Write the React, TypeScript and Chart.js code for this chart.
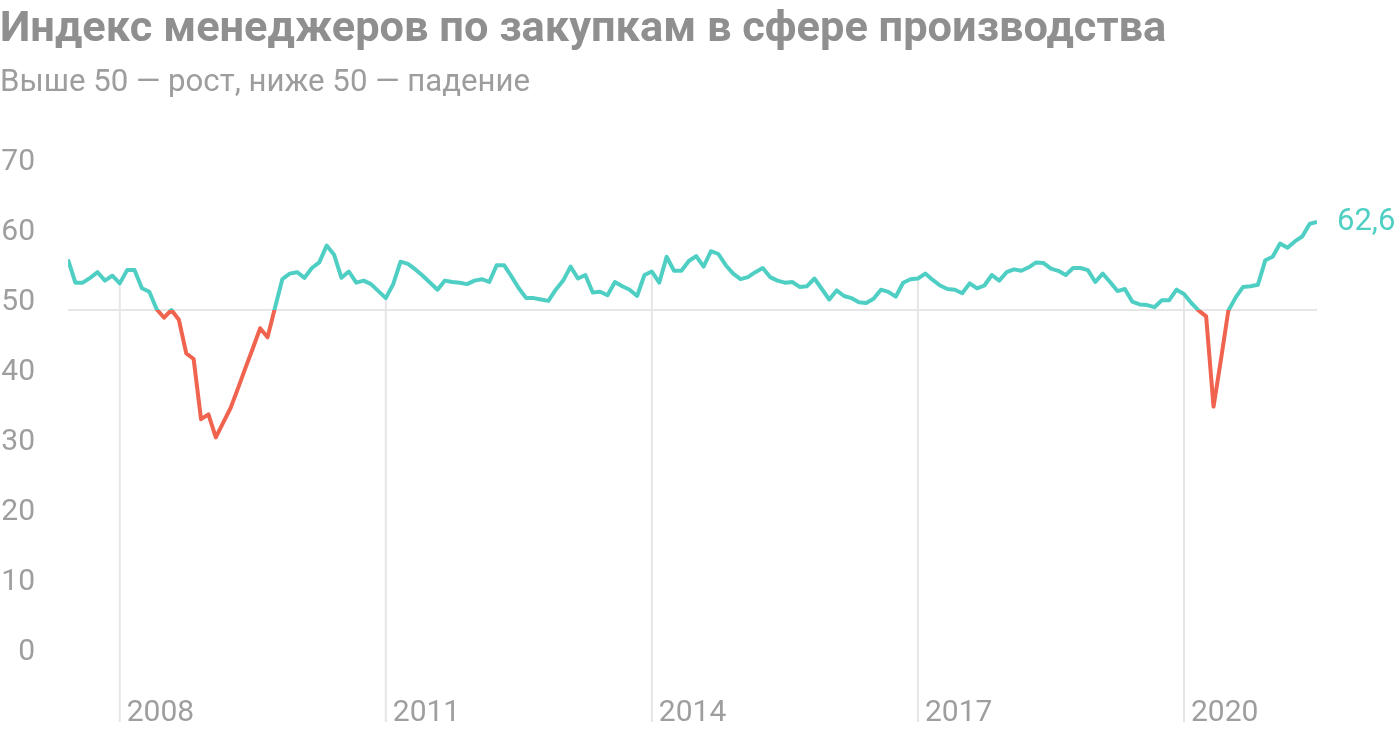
import React, { useEffect, useRef } from "react";
import { Chart, registerables } from "chart.js";

Chart.register(...registerables);

// ---- DATA (monthly, end-of-month, May 2007 – Jun 2021) ----
const START_YEAR = 2007;
const START_MONTH = 5; // May

const pmi2007 = [57.2, 53.9, 53.9, 54.6, 55.4, 54.2, 54.9, 53.8];
const pmi2008 = [55.7, 55.7, 53.1, 52.6, 50.1, 48.9, 50.0, 48.6, 43.8, 43.0, 34.4, 35.1];
const pmi2009 = [31.8, 33.9, 36.0, 38.8, 41.7, 44.5, 47.4, 46.1, 50.3, 54.4, 55.2, 55.4];
const pmi2010 = [54.6, 56.0, 56.8, 59.2, 57.9, 54.6, 55.5, 53.9, 54.2, 53.7, 52.7, 51.7];
const pmi2011 = [53.7, 56.9, 56.6, 55.8, 54.9, 53.9, 52.9, 54.2, 54.0, 53.9, 53.7, 54.2];
const pmi2012 = [54.4, 54.0, 56.4, 56.4, 54.8, 53.1, 51.7, 51.7, 51.5, 51.3, 52.9, 54.2];
const pmi2013 = [56.2, 54.5, 55.0, 52.5, 52.6, 52.1, 54.0, 53.4, 52.9, 52.0, 55.0, 55.5];
const pmi2014 = [53.9, 57.6, 55.6, 55.6, 57.0, 57.7, 56.2, 58.4, 58.0, 56.4, 55.2, 54.4];
const pmi2015 = [54.7, 55.4, 56.0, 54.7, 54.2, 53.9, 54.0, 53.3, 53.4, 54.5, 53.0, 51.5];
const pmi2016 = [52.8, 52.0, 51.7, 51.1, 51.0, 51.6, 52.9, 52.6, 51.9, 53.9, 54.4, 54.5];
const pmi2017 = [55.2, 54.3, 53.5, 53.0, 52.9, 52.4, 53.8, 53.1, 53.5, 55.0, 54.2, 55.4];
const pmi2018 = [55.8, 55.6, 56.1, 56.8, 56.7, 55.9, 55.6, 55.0, 56.0, 56.0, 55.7, 54.0];
const pmi2019 = [55.2, 54.0, 52.7, 53.0, 51.2, 50.8, 50.7, 50.4, 51.4, 51.4, 52.9, 52.3];
const pmi2020 = [51.0, 49.9, 49.1, 36.2, 42.9, 49.9, 51.8, 53.3, 53.4, 53.6, 57.1, 57.6];
const pmi2021 = [59.5, 58.9, 59.8, 60.5, 62.3, 62.6];

const yearTicks = [2008, 2011, 2014, 2017, 2020];
const valueTicks = [0, 10, 20, 30, 40, 50, 60, 70];
const threshold = 50;
const lastValueLabel = "62,6";

const TITLE = "Индекс менеджеров по закупкам в сфере производства";
const SUBTITLE = "Выше 50 — рост, ниже 50 — падение";

// ---- STYLE ----
const TEAL = "#4fcfc3";
const RED = "#f0634f";
const TEXT_GRAY = "#9e9e9e";
const LINE_GRAY = "#e6e6e6";
const FONT = 'Roboto, "Liberation Sans", Arial, sans-serif';

const series = [
  ...pmi2007, ...pmi2008, ...pmi2009, ...pmi2010, ...pmi2011, ...pmi2012, ...pmi2013,
  ...pmi2014, ...pmi2015, ...pmi2016, ...pmi2017, ...pmi2018, ...pmi2019, ...pmi2020, ...pmi2021,
];
const points = series.map((v, i) => ({ x: START_YEAR + (START_MONTH + i) / 12, y: v }));

const yearLinesPlugin = {
  id: "yearLines",
  beforeDatasetsDraw(chart: any) {
    const { ctx, scales } = chart;
    const xs = scales.x;
    const pts = chart.getDatasetMeta(0).data;
    ctx.save();
    ctx.strokeStyle = LINE_GRAY;
    ctx.lineWidth = 2;
    yearTicks.forEach((yr) => {
      const px = xs.getPixelForValue(yr);
      let py: number | null = null;
      for (let k = 0; k < pts.length - 1; k++) {
        const a = pts[k];
        const b = pts[k + 1];
        if (a.x <= px && b.x >= px) {
          py = a.y + ((b.y - a.y) * (px - a.x)) / (b.x - a.x || 1);
          break;
        }
      }
      if (py === null) return;
      ctx.beginPath();
      ctx.moveTo(px, py);
      ctx.lineTo(px, chart.height - 10);
      ctx.stroke();
    });
    ctx.restore();
  },
};

const lastLabelPlugin = {
  id: "lastLabel",
  afterDatasetsDraw(chart: any) {
    const pts = chart.getDatasetMeta(0).data;
    const p = pts[pts.length - 1];
    if (!p) return;
    const { ctx } = chart;
    ctx.save();
    ctx.fillStyle = TEAL;
    ctx.font = `31px ${FONT}`;
    ctx.textAlign = "left";
    ctx.textBaseline = "middle";
    ctx.fillText(lastValueLabel, p.x + 20, p.y);
    ctx.restore();
  },
};

export default function App() {
  const canvasRef = useRef<HTMLCanvasElement | null>(null);

  useEffect(() => {
    const canvas = canvasRef.current;
    if (!canvas) return;
    const chart = new Chart(canvas, {
      type: "line",
      data: {
        datasets: [
          {
            data: points,
            borderWidth: 4,
            pointRadius: 0,
            tension: 0,
            borderJoinStyle: "round",
            borderCapStyle: "butt",
            borderColor: (c: any) => {
              const ch = c.chart;
              const area = ch.chartArea;
              if (!area) return TEAL;
              const y50 = ch.scales.y.getPixelForValue(threshold);
              const g = ch.ctx.createLinearGradient(0, area.top, 0, area.bottom);
              const f = Math.min(1, Math.max(0, (y50 - area.top) / (area.bottom - area.top)));
              g.addColorStop(0, TEAL);
              g.addColorStop(f, TEAL);
              g.addColorStop(f, RED);
              g.addColorStop(1, RED);
              return g;
            },
          },
        ],
      },
      options: {
        animation: false,
        responsive: false,
        layout: { padding: { top: 170, right: 83, left: 0, bottom: 0 } },
        plugins: {
          legend: { display: false },
          tooltip: { enabled: false },
          title: { display: false },
        },
        scales: {
          x: {
            type: "linear",
            min: points[0].x,
            max: points[points.length - 1].x,
            afterBuildTicks: (s: any) => {
              s.ticks = yearTicks.map((v) => ({ value: v }));
            },
            afterFit: (s: any) => {
              s.height = 72;
            },
            grid: { display: false },
            border: { display: false },
            ticks: {
              align: "start",
              labelOffset: 7,
              padding: 27,
              maxRotation: 0,
              autoSkip: false,
              color: TEXT_GRAY,
              font: { family: FONT, size: 30 },
              callback: (v: any) => String(v),
            },
          },
          y: {
            min: 0,
            max: 70,
            afterBuildTicks: (s: any) => {
              s.ticks = valueTicks.map((v) => ({ value: v }));
            },
            afterFit: (s: any) => {
              s.width = 68;
            },
            grid: {
              drawTicks: false,
              lineWidth: 2,
              color: (c: any) => (c.tick && c.tick.value === threshold ? LINE_GRAY : "rgba(0,0,0,0)"),
            },
            border: { display: false },
            ticks: {
              padding: 33,
              labelOffset: -8,
              color: TEXT_GRAY,
              font: { family: FONT, size: 30 },
              callback: (v: any) => String(v),
            },
          },
        },
      },
      plugins: [yearLinesPlugin, lastLabelPlugin],
    } as any);
    return () => chart.destroy();
  }, []);

  return (
    <div style={{ position: "absolute", left: 0, top: 0, width: 1400, height: 732, background: "#fff", overflow: "hidden" }}>
      <canvas ref={canvasRef} width={1400} height={732} style={{ position: "absolute", left: 0, top: 0, width: 1400, height: 732 }} />
      <div
        style={{
          position: "absolute",
          left: 0,
          top: 5,
          fontFamily: FONT,
          fontWeight: 700,
          fontSize: 43.4,
          lineHeight: 1,
          color: "#8f8f8f",
          whiteSpace: "nowrap",
        }}
      >
        {TITLE}
      </div>
      <div
        style={{
          position: "absolute",
          left: 0,
          top: 65,
          fontFamily: FONT,
          fontWeight: 400,
          fontSize: 31.2,
          lineHeight: 1,
          color: "#9d9d9d",
          whiteSpace: "nowrap",
        }}
      >
        {SUBTITLE}
      </div>
    </div>
  );
}
